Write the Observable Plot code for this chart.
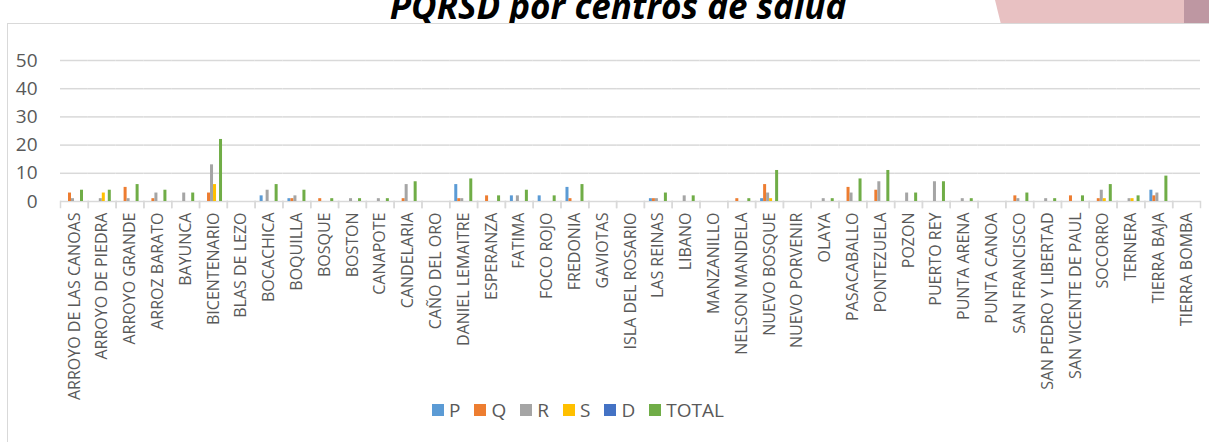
<!DOCTYPE html>
<html>
<head>
<meta charset="utf-8">
<script src="https://cdn.jsdelivr.net/npm/d3@7"></script>
<script src="https://cdn.jsdelivr.net/npm/@observablehq/plot@0.6"></script>
<style>
  html, body { margin: 0; padding: 0; background: #fff; }
  #wrap { position: relative; width: 1209px; height: 442px; overflow: hidden; font-family: "Open Sans", sans-serif; }
  #title { position: absolute; left: 0; top: 0; width: 1236px; height: 23px; overflow: hidden; }
  #title span { position: absolute; left: 0; right: 0; top: -18px; text-align: center; font-size: 35px; line-height: 48px; font-weight: bold; font-style: italic; color: #000; white-space: nowrap; }
  #pink { position: absolute; left: 995px; top: 0; width: 189px; height: 23px; background: #E8C1C2; clip-path: polygon(0 0, 100% 0, 100% 100%, 3% 100%); }
  #mauve { position: absolute; left: 1184px; top: 0; width: 25px; height: 23px; background: #BE97A2; }
  #box { position: absolute; left: 7px; top: 23px; width: 1300px; height: 500px; border-left: 1px solid #D9D9D9; border-top: 1px solid #D9D9D9; }
  #chart { position: absolute; left: 0; top: 0; }
  #chart g[aria-label="y-axis tick label"] { font-size: 19px; }
  #legend { position: absolute; left: 432px; top: 397px; display: flex; align-items: center; font-size: 19px; color: #595959; }
  #legend .item { display: flex; align-items: center; margin-right: 14px; }
  #legend .sw { width: 12px; height: 12px; margin-right: 5px; }
</style>
</head>
<body>
<div id="wrap">
  <div id="title"><span>PQRSD por centros de salud</span></div>
  <div id="pink"></div>
  <div id="mauve"></div>
  <div id="box"></div>
  <div id="chart"></div>
  <div id="legend"></div>
</div>
<script>
const centros = ["ARROYO DE LAS CANOAS","ARROYO DE PIEDRA","ARROYO GRANDE","ARROZ BARATO","BAYUNCA","BICENTENARIO","BLAS DE LEZO","BOCACHICA","BOQUILLA","BOSQUE","BOSTON","CANAPOTE","CANDELARIA","CAÑO DEL ORO","DANIEL LEMAITRE","ESPERANZA","FATIMA","FOCO ROJO","FREDONIA","GAVIOTAS","ISLA DEL ROSARIO","LAS REINAS","LIBANO","MANZANILLO","NELSON MANDELA","NUEVO BOSQUE","NUEVO PORVENIR","OLAYA","PASACABALLO","PONTEZUELA","POZON","PUERTO REY","PUNTA ARENA","PUNTA CANOA","SAN FRANCISCO","SAN PEDRO Y LIBERTAD","SAN VICENTE DE PAUL","SOCORRO","TERNERA","TIERRA BAJA","TIERRA BOMBA"];
const series = ["P","Q","R","S","D","TOTAL"];
const colores = ["#5B9BD5","#ED7D31","#A5A5A5","#FFC000","#4472C4","#70AD47"];
const yTicks = [0,10,20,30,40,50];
const P = [0,0,0,0,0,0,0,2,1,0,0,0,0,0,6,0,2,2,5,0,0,1,0,0,0,1,0,0,0,0,0,0,0,0,0,0,0,0,0,4,0];
const Q = [3,0,5,1,0,3,0,0,1,1,0,0,1,0,1,2,0,0,1,0,0,1,0,0,1,6,0,0,5,4,0,0,0,0,2,0,2,1,0,2,0];
const R = [1,1,1,3,3,13,0,4,2,0,1,1,6,0,1,0,2,0,0,0,0,1,2,0,0,3,0,1,3,7,3,7,1,0,1,1,0,4,1,3,0];
const S = [0,3,0,0,0,6,0,0,0,0,0,0,0,0,0,0,0,0,0,0,0,0,0,0,0,1,0,0,0,0,0,0,0,0,0,0,0,1,1,0,0];
const D = [0,0,0,0,0,0,0,0,0,0,0,0,0,0,0,0,0,0,0,0,0,0,0,0,0,0,0,0,0,0,0,0,0,0,0,0,0,0,0,0,0];
const TOTAL = [4,4,6,4,3,22,0,6,4,1,1,1,7,0,8,2,4,2,6,0,0,3,2,0,1,11,0,1,8,11,3,7,1,0,3,1,2,6,2,9,0];

const valores = {P, Q, R, S, D, TOTAL};
const data = [];
centros.forEach((c, i) => series.forEach(s => data.push({centro: c, serie: s, valor: valores[s][i]})));

const grid = "#D9D9D9";
const plot = Plot.plot({
  width: 1209,
  height: 410,
  marginLeft: 60,
  marginRight: 9,
  marginTop: 60,
  marginBottom: 209,
  style: {fontFamily: "Open Sans", fontSize: "16px", color: "#595959", background: "transparent"},
  fx: {domain: centros, padding: 0, label: null, axis: null},
  x: {domain: series, paddingInner: 0, paddingOuter: 1.09, axis: null},
  y: {domain: [0, 50], axis: null},
  color: {domain: series, range: colores},
  marks: [
    Plot.ruleY(yTicks, {stroke: grid, strokeWidth: 1.5}),
    Plot.frame({anchor: "left", stroke: grid, strokeWidth: 1.5, insetTop: 135, dy: 6}),
    Plot.frame({anchor: "right", stroke: grid, strokeWidth: 1.5, insetTop: 135, dy: 6}),
    Plot.barY(data, {fx: "centro", x: "serie", y: "valor", fill: "serie"}),
    Plot.axisY({ticks: yTicks, tickSize: 0, tickPadding: 23, label: null}),
    Plot.axisFx({anchor: "bottom", tickSize: 0, tickPadding: 11, tickRotate: -90, label: null})
  ]
});
document.getElementById("chart").appendChild(plot);

const legend = document.getElementById("legend");
series.forEach((s, i) => {
  const it = document.createElement("div");
  it.className = "item";
  const sw = document.createElement("div");
  sw.className = "sw";
  sw.style.background = colores[i];
  const lb = document.createElement("span");
  lb.textContent = s;
  it.appendChild(sw); it.appendChild(lb);
  legend.appendChild(it);
});
</script>
</body>
</html>
